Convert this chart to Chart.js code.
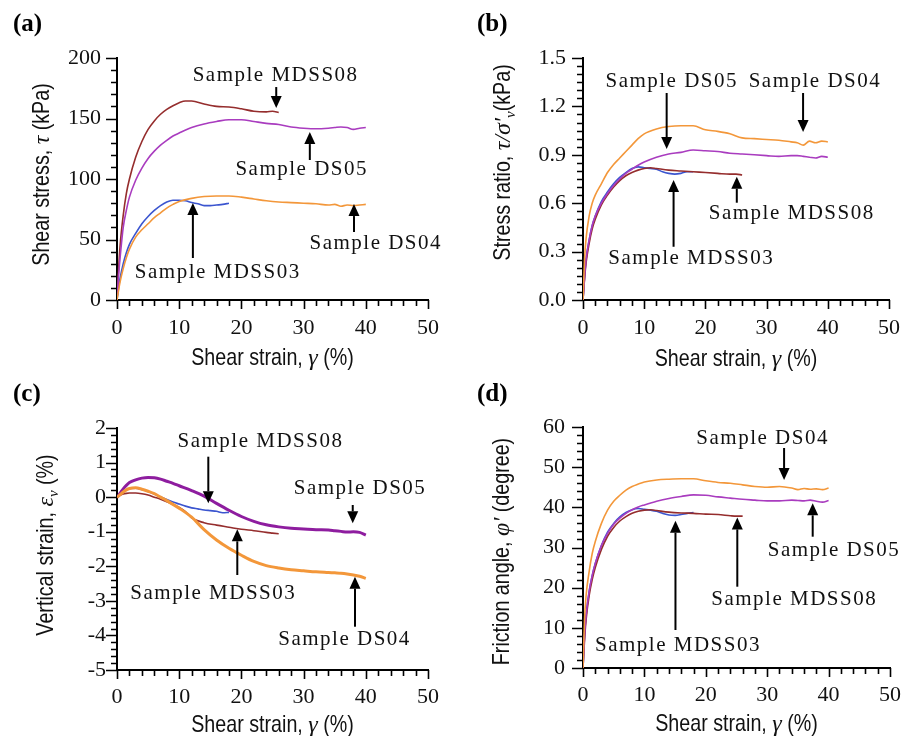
<!DOCTYPE html>
<html>
<head>
<meta charset="utf-8">
<title>Shear test results</title>
<script src="https://cdn.jsdelivr.net/npm/chart.js@4.4.1/dist/chart.umd.min.js"></script>
<style>
  body { margin: 0; background: #fff; }
  #wrap { position: relative; width: 915px; height: 736px; overflow: hidden; }
  canvas { position: absolute; left: 0; top: 0; }
</style>
</head>
<body>
<div id="wrap">
  <canvas id="chartA" width="915" height="736"></canvas>
  <canvas id="chartB" width="915" height="736"></canvas>
  <canvas id="chartC" width="915" height="736"></canvas>
  <canvas id="chartD" width="915" height="736"></canvas>
</div>
<script>
// shear strain (%) sampled for each test
var strainDS = [0, 0.25, 0.5, 1, 1.5, 2, 3, 4, 5, 6, 7, 8, 9, 10, 12, 14, 16, 18, 20, 22, 24, 26, 28, 30, 32, 34, 35, 36, 37, 38, 39, 40];
var strain03 = [0, 0.25, 0.5, 1, 1.5, 2, 3, 4, 5, 6, 7, 8, 9, 10, 11, 12, 13, 14, 15, 16, 17, 18];
var strain08 = [0, 0.25, 0.5, 1, 1.5, 2, 3, 4, 5, 6, 7, 8, 9, 10, 11, 12, 14, 16, 18, 20, 22, 24, 25, 26];

// (a) shear stress, kPa
var tauDS04 = [0, 8, 15, 26, 35, 42, 52, 58, 63, 68, 72, 76, 79, 81.5, 84, 85.5, 86, 86, 85, 83.5, 82, 81, 80.5, 80, 79.5, 78.5, 79, 77.5, 78.5, 78, 78.5, 79];
var tauDS05 = [0, 20, 35, 60, 74, 85, 99, 109, 117, 123, 128, 132, 135.5, 138, 142.5, 145.5, 147.5, 149, 149, 147.5, 146, 145, 143, 142, 141.5, 142, 142.5, 143, 142.5, 141, 142, 142.5];
var tau03 = [0, 10, 18, 30, 39, 46, 55, 63, 69, 74, 78, 81, 82.5, 82.5, 82, 80.5, 79.5, 78, 78, 78.5, 79, 80];
var tau08 = [0, 25, 45, 70, 88, 100, 118, 131, 141, 148, 153.5, 157.5, 160.5, 163, 164.5, 164.5, 162, 160, 159.5, 158, 156, 155.5, 156, 155];

// (b) stress ratio
var ratioDS04 = [0, 0.25, 0.38, 0.52, 0.6, 0.65, 0.72, 0.79, 0.84, 0.88, 0.92, 0.96, 1.0, 1.03, 1.06, 1.075, 1.08, 1.08, 1.055, 1.045, 1.03, 1.005, 1.0, 0.995, 0.99, 0.98, 0.975, 0.96, 0.985, 0.975, 0.985, 0.98];
var ratioDS05 = [0, 0.14, 0.25, 0.37, 0.46, 0.52, 0.6, 0.66, 0.71, 0.75, 0.785, 0.81, 0.835, 0.855, 0.885, 0.905, 0.915, 0.93, 0.925, 0.92, 0.91, 0.905, 0.9, 0.895, 0.89, 0.895, 0.895, 0.89, 0.885, 0.88, 0.89, 0.885];
var ratio03 = [0, 0.14, 0.25, 0.37, 0.46, 0.52, 0.61, 0.67, 0.72, 0.76, 0.79, 0.815, 0.825, 0.82, 0.815, 0.81, 0.795, 0.785, 0.78, 0.785, 0.795, 0.795];
var ratio08 = [0, 0.13, 0.23, 0.35, 0.44, 0.5, 0.59, 0.65, 0.7, 0.74, 0.77, 0.79, 0.805, 0.815, 0.82, 0.815, 0.805, 0.8, 0.795, 0.79, 0.785, 0.78, 0.78, 0.775];

// (c) vertical strain, %
var evDS04 = [0, 0.03, 0.07, 0.15, 0.21, 0.25, 0.27, 0.23, 0.17, 0.1, 0.0, -0.1, -0.21, -0.32, -0.58, -0.94, -1.24, -1.48, -1.68, -1.86, -1.98, -2.05, -2.1, -2.13, -2.16, -2.18, -2.19, -2.2, -2.22, -2.25, -2.29, -2.35];
var evDS05 = [0, 0.05, 0.12, 0.24, 0.34, 0.42, 0.5, 0.55, 0.57, 0.56, 0.52, 0.46, 0.4, 0.33, 0.19, 0.03, -0.18, -0.38, -0.56, -0.7, -0.8, -0.86, -0.9, -0.92, -0.94, -0.95, -0.97, -0.99, -1.01, -1.0, -1.02, -1.1];
var ev03 = [0, 0.04, 0.08, 0.15, 0.21, 0.25, 0.26, 0.22, 0.16, 0.09, 0.01, -0.07, -0.14, -0.2, -0.26, -0.31, -0.34, -0.37, -0.39, -0.41, -0.45, -0.44];
var ev08 = [0, 0.02, 0.05, 0.09, 0.11, 0.12, 0.12, 0.1, 0.06, 0.0, -0.06, -0.13, -0.21, -0.3, -0.42, -0.6, -0.74, -0.81, -0.87, -0.93, -0.97, -1.02, -1.04, -1.06];

// (d) friction angle, degree
var phiDS04 = [0, 12, 18, 24, 28.5, 31.5, 36, 39.3, 41.5, 43, 44.3, 45.2, 45.8, 46.3, 46.8, 47, 47.1, 47.1, 46.6, 46.2, 46, 45.6, 45.2, 45, 45.2, 44.8, 44.4, 44.7, 44.5, 44.6, 44.4, 44.8];
var phiDS05 = [0, 8, 13, 19, 23, 26, 30.5, 33.5, 35.8, 37.3, 38.5, 39.4, 40.1, 40.6, 41.5, 42.2, 42.7, 43.1, 43, 42.6, 42.3, 42, 41.8, 41.6, 41.6, 41.8, 41.7, 41.6, 41.8, 41.5, 41.3, 41.7];
var phi03 = [0, 8, 13, 19, 23, 26, 30.5, 33.8, 36, 37.6, 38.7, 39.4, 39.7, 39.5, 39.3, 39, 38.5, 38.1, 38, 38.2, 38.5, 38.7];
var phi08 = [0, 7, 12, 18, 22, 25, 29.5, 32.8, 35, 36.6, 37.7, 38.5, 39, 39.3, 39.4, 39.2, 38.8, 38.6, 38.5, 38.3, 38.2, 37.9, 37.8, 37.8];

// major tick labels
var xMajor = [0, 10, 20, 30, 40, 50];
var yMajorA = [0, 50, 100, 150, 200];
var yMajorB = [0, 0.3, 0.6, 0.9, 1.2, 1.5];
var yMajorC = [-5, -4, -3, -2, -1, 0, 1, 2];
var yMajorD = [0, 10, 20, 30, 40, 50, 60];

var ORANGE = '#f3973a', PURPLE = '#a93cbf', PURPLE_DK = '#8e1d9f', BLUE = '#3b55cf', BROWN = '#952d2d';

var serif = '"Liberation Serif", "Times New Roman", serif';

// check whether the narrow sans is installed
var probe = document.createElement('canvas').getContext('2d');
probe.font = '20px "Liberation Sans Narrow", monospace';
var w1 = probe.measureText('Shear strain').width;
probe.font = '20px "Liberation Sans Narrow", serif';
var narrowOK = Math.abs(w1 - probe.measureText('Shear strain').width) < 0.01;

function pts(xs, ys) {
  return xs.map(function (x, i) { return { x: x, y: ys[i] }; });
}

function series(label, xs, ys, color, width) {
  return {
    label: label, data: pts(xs, ys), borderColor: color, borderWidth: width || 1.6,
    pointRadius: 0, fill: false, cubicInterpolationMode: 'monotone'
  };
}

// majors plus evenly spaced minor ticks between them
function tickList(majors, sub) {
  var out = [];
  for (var i = 0; i < majors.length - 1; i++) {
    var step = (majors[i + 1] - majors[i]) / sub;
    for (var k = 0; k < sub; k++) out.push(Math.round((majors[i] + k * step) * 1e6) / 1e6);
  }
  out.push(majors[majors.length - 1]);
  return out;
}

function isMajor(v, majors) {
  return majors.some(function (m) { return Math.abs(m - v) < 1e-6; });
}

function segFont(s) {
  if (s.sub) return { font: 'italic 15px ' + serif, sx: 1 };
  if (s.it) return { font: 'italic 24px ' + serif, sx: 1 };
  if (narrowOK) return { font: '24px "Liberation Sans Narrow"', sx: 1 };
  return { font: '24px "Liberation Sans", Arial, sans-serif', sx: 0.82 };
}

function drawRich(ctx, segs, x, y, vertical) {
  ctx.save();
  ctx.translate(x, y);
  if (vertical) ctx.rotate(-Math.PI / 2);
  ctx.fillStyle = '#111';
  ctx.textAlign = 'left';
  ctx.textBaseline = 'alphabetic';
  var parts = segs.map(function (s) {
    var f = segFont(s);
    ctx.font = f.font;
    return { s: s, f: f, w: ctx.measureText(s.t).width * f.sx };
  });
  var total = 0;
  parts.forEach(function (p) { total += p.w; });
  var cur = -total / 2;
  parts.forEach(function (p) {
    ctx.save();
    ctx.font = p.f.font;
    ctx.translate(cur, p.s.sub ? 5 : 0);
    ctx.scale(p.f.sx, 1);
    ctx.fillText(p.s.t, 0, 0);
    ctx.restore();
    cur += p.w;
  });
  ctx.restore();
}

function arrow(ctx, x0, y0, x1, y1) {
  var ang = Math.atan2(y1 - y0, x1 - x0), len = 12, half = 5.5;
  var bx = x1 - len * Math.cos(ang), by = y1 - len * Math.sin(ang);
  ctx.beginPath();
  ctx.moveTo(x0, y0);
  ctx.lineTo(bx, by);
  ctx.stroke();
  ctx.beginPath();
  ctx.moveTo(x1, y1);
  ctx.lineTo(bx + half * Math.sin(ang), by - half * Math.cos(ang));
  ctx.lineTo(bx - half * Math.sin(ang), by + half * Math.cos(ang));
  ctx.closePath();
  ctx.fill();
}

// ticks, axis titles, panel letter, labels and arrows
function extras(p) {
  return {
    id: 'extras',
    afterDraw: function (chart) {
      var ctx = chart.ctx, a = chart.chartArea, sx = chart.scales.x, sy = chart.scales.y;
      ctx.save();
      ctx.strokeStyle = '#000';
      ctx.fillStyle = '#000';
      ctx.lineWidth = 1.6;
      ctx.beginPath();
      sy.ticks.forEach(function (t) {
        var py = Math.round(sy.getPixelForValue(t.value)) + 0.5;
        var len = isMajor(t.value, p.yMajor) ? 11 : 6;
        ctx.moveTo(a.left - len, py);
        ctx.lineTo(a.left, py);
      });
      sx.ticks.forEach(function (t) {
        var px = Math.round(sx.getPixelForValue(t.value)) + 0.5;
        var len = isMajor(t.value, xMajor) ? 9 : 6;
        ctx.moveTo(px, a.bottom);
        ctx.lineTo(px, a.bottom + len);
      });
      ctx.stroke();

      // panel letter
      ctx.font = 'bold 25px ' + serif;
      ctx.textAlign = 'left';
      ctx.textBaseline = 'alphabetic';
      ctx.fillText(p.letter, p.letterPos[0], p.letterPos[1]);

      // axis titles
      drawRich(ctx, p.xTitle, (a.left + a.right) / 2, p.xTitleY, false);
      drawRich(ctx, p.yTitle, p.yTitlePos[0], p.yTitlePos[1], true);

      // sample labels with arrows
      ctx.lineWidth = 2;
      p.notes.forEach(function (n) {
        ctx.font = '21px ' + serif;
        ctx.letterSpacing = '1.5px';
        var w = ctx.measureText(n.text).width;
        ctx.fillStyle = '#111';
        ctx.fillText(n.text, sx.getPixelForValue(n.at[0]) - w / 2, sy.getPixelForValue(n.at[1]) + 7);
        ctx.letterSpacing = '0px';
        ctx.fillStyle = '#000';
        arrow(ctx, sx.getPixelForValue(n.tail[0]), sy.getPixelForValue(n.tail[1]),
          sx.getPixelForValue(n.tip[0]), sy.getPixelForValue(n.tip[1]));
      });
      ctx.restore();
    }
  };
}

function scaleOpts(majors, sub, min, max, pad, fmt, fit) {
  var list = tickList(majors, sub);
  return {
    type: 'linear', min: min, max: max,
    grid: { display: false, drawTicks: false },
    border: { display: true, color: '#000', width: 2 },
    ticks: {
      autoSkip: false, maxRotation: 0, padding: pad, color: '#111',
      font: { family: serif, size: 22 },
      callback: function (v) { return isMajor(v, majors) ? fmt(v) : ''; }
    },
    afterBuildTicks: function (s) { s.ticks = list.map(function (v) { return { value: v }; }); },
    afterFit: fit
  };
}

function fmtInt(v) { return String(Math.round(v)); }
function fmtOne(v) { return v.toFixed(1); }

function makePanel(id, p) {
  new Chart(document.getElementById(id), {
    type: 'line',
    data: { datasets: p.datasets },
    options: {
      responsive: false, animation: false, events: [],
      layout: { padding: { left: 0, top: p.area.top, right: 915 - p.area.right, bottom: 0 } },
      plugins: { legend: { display: false }, tooltip: { enabled: false } },
      scales: {
        x: Object.assign(scaleOpts(xMajor, 5, 0, 50, p.xPad, fmtInt,
          function (s) { s.height = 736 - p.area.bottom; }), { position: 'bottom' }),
        y: Object.assign(scaleOpts(p.yMajor, p.ySub, p.yMajor[0], p.yMajor[p.yMajor.length - 1], p.yPad, p.yFmt,
          function (s) { s.width = p.area.left; }), { position: 'left' })
      }
    },
    plugins: [extras(p)]
  });
}

var xTitle = [{ t: 'Shear strain, ' }, { t: 'γ', it: true }, { t: ' (%)' }];

makePanel('chartA', {
  area: { left: 117, right: 428, top: 58, bottom: 300 },
  yMajor: yMajorA, ySub: 5, yFmt: fmtInt, yPad: 16, xPad: 15,
  letter: '(a)', letterPos: [13, 31],
  xTitle: xTitle, xTitleY: 365,
  yTitle: [{ t: 'Shear stress, ' }, { t: 'τ', it: true }, { t: ' (kPa)' }], yTitlePos: [49, 174.5],
  datasets: [
    series('Sample DS04', strainDS, tauDS04, ORANGE),
    series('Sample DS05', strainDS, tauDS05, PURPLE),
    series('Sample MDSS08', strain08, tau08, BROWN),
    series('Sample MDSS03', strain03, tau03, BLUE)
  ],
  notes: [
    { text: 'Sample MDSS08', at: [25.5, 186.8], tail: [25.6, 176], tip: [25.6, 158.7] },
    { text: 'Sample DS05', at: [29.7, 109], tail: [31, 115.7], tip: [31, 138.8] },
    { text: 'Sample DS04', at: [41.6, 48], tail: [38.1, 56.2], tip: [38.1, 79.3] },
    { text: 'Sample MDSS03', at: [16.2, 24], tail: [12.2, 34.7], tip: [12.2, 80.2] }
  ]
});

makePanel('chartB', {
  area: { left: 583, right: 894, top: 58, bottom: 300 },
  yMajor: yMajorB, ySub: 6, yFmt: fmtOne, yPad: 17, xPad: 15,
  letter: '(b)', letterPos: [477, 31],
  xTitle: xTitle, xTitleY: 366,
  yTitle: [{ t: 'Stress ratio, ' }, { t: 'τ/σ\'', it: true }, { t: 'v', sub: true }, { t: '(kPa)' }], yTitlePos: [510, 162.5],
  datasets: [
    series('Sample DS04', strainDS, ratioDS04, ORANGE),
    series('Sample DS05', strainDS, ratioDS05, PURPLE),
    series('Sample MDSS08', strain08, ratio08, BROWN),
    series('Sample MDSS03', strain03, ratio03, BLUE)
  ],
  notes: [
    { text: 'Sample DS05', at: [14.5, 1.364], tail: [13.67, 1.283], tip: [13.67, 0.936] },
    { text: 'Sample DS04', at: [37.9, 1.364], tail: [35.96, 1.283], tip: [35.96, 1.041] },
    { text: 'Sample MDSS08', at: [34.1, 0.545], tail: [25.13, 0.603], tip: [25.13, 0.764] },
    { text: 'Sample MDSS03', at: [17.7, 0.268], tail: [14.8, 0.33], tip: [14.8, 0.744] }
  ]
});

makePanel('chartC', {
  area: { left: 117, right: 428, top: 428, bottom: 670 },
  yMajor: yMajorC, ySub: 5, yFmt: fmtInt, yPad: 11, xPad: 14,
  letter: '(c)', letterPos: [13, 401],
  xTitle: xTitle, xTitleY: 732,
  yTitle: [{ t: 'Vertical strain, ' }, { t: 'ε', it: true }, { t: 'v', sub: true }, { t: ' (%)' }], yTitlePos: [53, 545],
  datasets: [
    series('Sample DS04', strainDS, evDS04, ORANGE, 3),
    series('Sample DS05', strainDS, evDS05, PURPLE_DK, 3),
    series('Sample MDSS08', strain08, ev08, BROWN),
    series('Sample MDSS03', strain03, ev03, BLUE)
  ],
  notes: [
    { text: 'Sample MDSS08', at: [23.07, 1.653], tail: [14.68, 1.17], tip: [14.68, -0.178] },
    { text: 'Sample DS05', at: [39.07, 0.302], tail: [37.9, -0.227], tip: [37.9, -0.757] },
    { text: 'Sample MDSS03', at: [15.48, -2.735], tail: [19.34, -2.252], tip: [19.34, -0.93] },
    { text: 'Sample DS04', at: [36.58, -4.083], tail: [38.26, -3.748], tip: [38.26, -2.3] }
  ]
});

makePanel('chartD', {
  area: { left: 583, right: 894, top: 427, bottom: 668 },
  yMajor: yMajorD, ySub: 5, yFmt: fmtInt, yPad: 18, xPad: 14,
  letter: '(d)', letterPos: [477, 401],
  xTitle: xTitle, xTitleY: 731,
  yTitle: [{ t: 'Friction angle, ' }, { t: 'φ\'', it: true }, { t: ' (degree)' }], yTitlePos: [509, 551.5],
  datasets: [
    series('Sample DS04', strainDS, phiDS04, ORANGE),
    series('Sample DS05', strainDS, phiDS05, PURPLE),
    series('Sample MDSS08', strain08, phi08, BROWN),
    series('Sample MDSS03', strain03, phi03, BLUE)
  ],
  notes: [
    { text: 'Sample DS04', at: [29.26, 57.58], tail: [32.75, 54.77], tip: [32.75, 46.8] },
    { text: 'Sample DS05', at: [40.88, 29.62], tail: [37.41, 32.69], tip: [37.41, 41.0] },
    { text: 'Sample MDSS08', at: [34.4, 17.35], tail: [25.13, 20.24], tip: [25.13, 37.5] },
    { text: 'Sample MDSS03', at: [15.47, 5.97], tail: [15.06, 9.46], tip: [15.06, 36.67] }
  ]
});
</script>
</body>
</html>
